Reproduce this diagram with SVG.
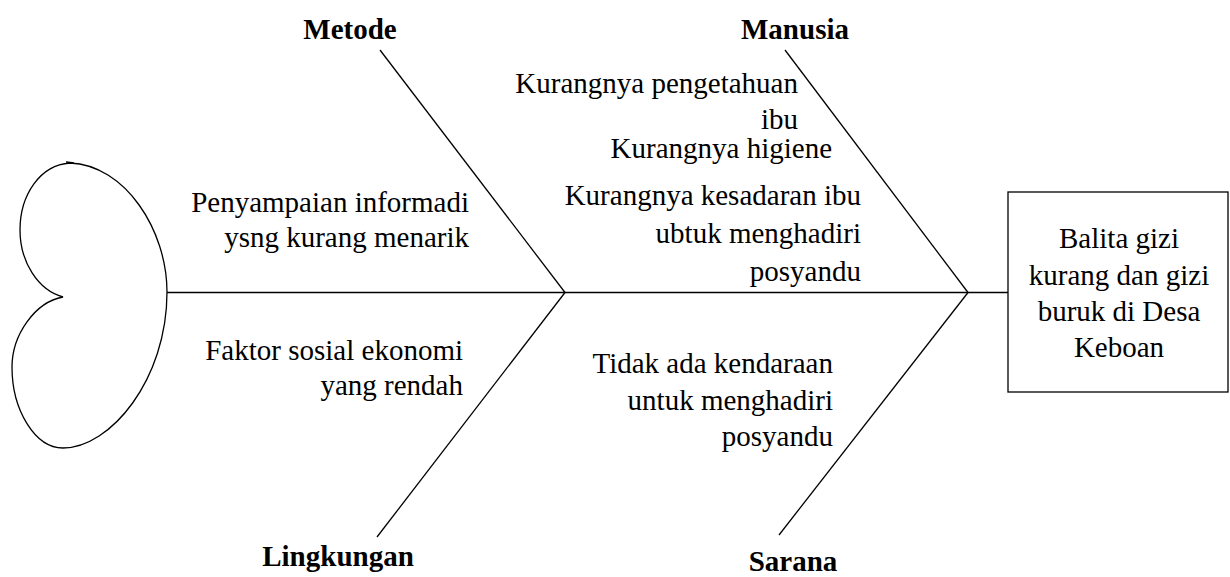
<svg xmlns="http://www.w3.org/2000/svg" width="1230" height="577" viewBox="0 0 1230 577">
  <style>
    .ln { fill: none; stroke: #000; stroke-width: 1.3; }
    text { font-size: 29px; fill: #000; }
    .h { font-weight: bold; text-anchor: middle; }
    .r { text-anchor: end; }
    .c { text-anchor: middle; }
  </style>
  <rect width="1230" height="577" fill="#fff"/>

  <!-- fish tail -->
  <g id="tail">
    <path class="ln" d="M 66,162 L 74,163 M 70,163 C 40,165 20,195 20,230 C 20,262 38,290 63,297 C 35,302 12,335 12,367 C 12,410 35,448 63,448 C 110,448 167,380 167,292 C 167,230 125,165 70,163 Z"/>
  </g>

  <!-- spine and bones -->
  <g id="connectors">
    <line class="ln" x1="167" y1="292.5" x2="1008" y2="292.5"/>
    <line class="ln" x1="380" y1="50" x2="565" y2="292.5"/>
    <line class="ln" x1="565" y1="292.5" x2="377" y2="537"/>
    <line class="ln" x1="785" y1="50" x2="968" y2="292.5"/>
    <line class="ln" x1="968" y1="292.5" x2="779" y2="535"/>
  </g>

  <g font-family="Liberation Serif, Times New Roman, serif">
    <!-- head -->
    <g id="head">
      <rect class="ln" x="1008" y="192" width="220" height="200"/>
      <text class="c" x="1119" y="248">Balita gizi</text>
      <text class="c" x="1119" y="285">kurang dan gizi</text>
      <text class="c" x="1119" y="321">buruk di Desa</text>
      <text class="c" x="1119" y="357">Keboan</text>
    </g>

    <g id="metode">
      <text class="h" x="350" y="39">Metode</text>
      <text class="r" x="469" y="212">Penyampaian informadi</text>
      <text class="r" x="469" y="247">ysng kurang menarik</text>
    </g>

    <g id="manusia">
      <text class="h" x="795" y="39">Manusia</text>
      <text class="r" x="798" y="93">Kurangnya pengetahuan</text>
      <text class="r" x="798" y="129">ibu</text>
      <text class="r" x="832" y="158">Kurangnya higiene</text>
      <text class="r" x="861" y="205">Kurangnya kesadaran ibu</text>
      <text class="r" x="861" y="243">ubtuk menghadiri</text>
      <text class="r" x="861" y="281">posyandu</text>
    </g>

    <g id="lingkungan">
      <text class="h" x="338" y="566">Lingkungan</text>
      <text class="r" x="463" y="360">Faktor sosial ekonomi</text>
      <text class="r" x="463" y="395">yang rendah</text>
    </g>

    <g id="sarana">
      <text class="h" x="793" y="571">Sarana</text>
      <text class="r" x="833" y="373">Tidak ada kendaraan</text>
      <text class="r" x="833" y="410">untuk menghadiri</text>
      <text class="r" x="833" y="446">posyandu</text>
    </g>
  </g>
</svg>
